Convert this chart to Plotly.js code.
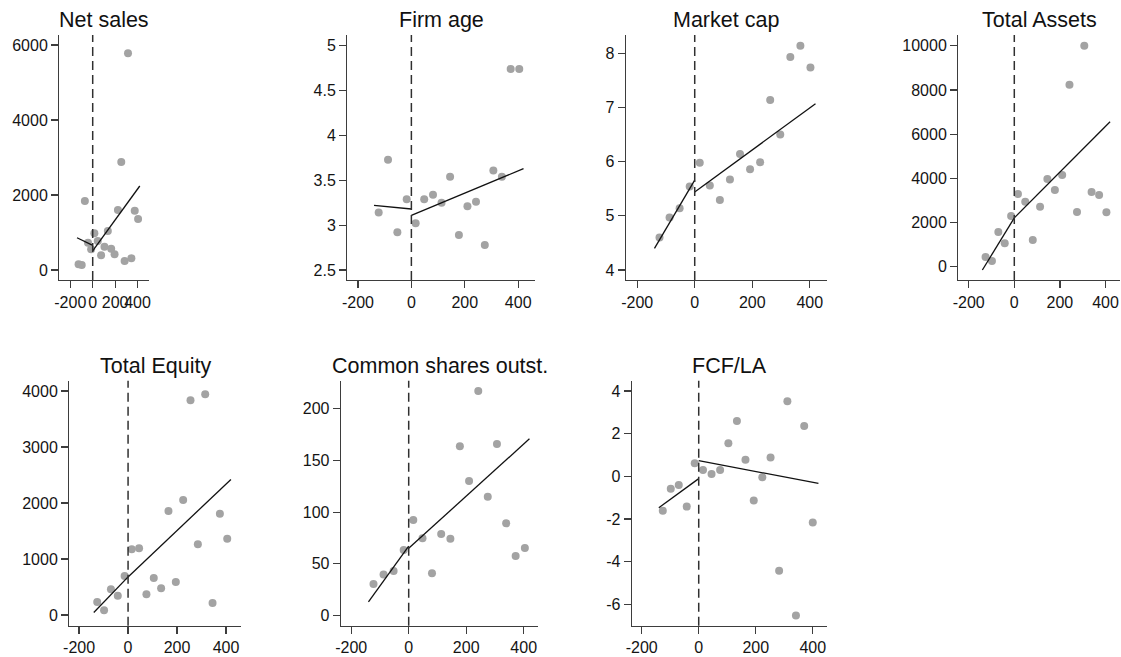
<!DOCTYPE html>
<html>
<head>
<meta charset="utf-8">
<script src="https://cdn.plot.ly/plotly-3.0.1.min.js"></script>
<style>
  html, body { margin: 0; padding: 0; background: #ffffff; }
  #chart { width: 1121px; height: 657px; }
</style>
</head>
<body>
<div id="chart"></div>
<script>
// Binned means around the cutoff (x = 0) with separate linear fits on each side.

const xTickVals = [-200, 0, 200, 400];
const xTickText = ["-200", "0", "200", "400"];

// Net sales
const netSalesX = [-126, -98, -70, -42, -14, 15, 45, 75, 105, 135, 165, 195, 225, 255, 285, 315, 345, 375, 405];
const netSalesY = [151, 133, 1840, 729, 551, 978, 773, 391, 622, 1040, 569, 418, 1600, 2880, 240, 5780, 311, 1582, 1360];
const netSalesFitLeftX = [-140, 0], netSalesFitLeftY = [860, 655];
const netSalesFitRightX = [0, 420], netSalesFitRightY = [510, 2240];
const netSalesYTicks = [0, 2000, 4000, 6000];

// Firm age
const firmAgeX = [-122.5, -87.5, -52.5, -17.5, 16, 48, 81, 113, 145, 178, 210, 242, 275, 307, 339, 372, 404];
const firmAgeY = [3.14, 3.73, 2.92, 3.29, 3.02, 3.29, 3.34, 3.25, 3.54, 2.89, 3.21, 3.26, 2.78, 3.61, 3.54, 4.74, 4.74];
const firmAgeFitLeftX = [-140, 0], firmAgeFitLeftY = [3.22, 3.18];
const firmAgeFitRightX = [0, 420], firmAgeFitRightY = [3.11, 3.63];
const firmAgeYTicks = [2.5, 3, 3.5, 4, 4.5, 5];

// Market cap
const marketCapX = [-122.5, -87.5, -52.5, -17.5, 17.5, 52.5, 87.5, 122.5, 157.5, 192.5, 227.5, 262.5, 297.5, 332.5, 367.5, 402.5];
const marketCapY = [4.60, 4.97, 5.14, 5.54, 5.98, 5.56, 5.29, 5.67, 6.14, 5.86, 5.99, 7.14, 6.50, 7.93, 8.14, 7.74];
const marketCapFitLeftX = [-140, 0], marketCapFitLeftY = [4.40, 5.66];
const marketCapFitRightX = [0, 420], marketCapFitRightY = [5.44, 7.07];
const marketCapYTicks = [4, 5, 6, 7, 8];

// Total Assets
const totalAssetsX = [-126, -98, -70, -42, -14, 16, 48, 81, 113, 145, 178, 210, 242, 275, 307, 339, 372, 404];
const totalAssetsY = [438, 257, 1570, 1057, 2294, 3290, 2943, 1208, 2717, 3970, 3472, 4151, 8235, 2475, 10000, 3381, 3245, 2460];
const totalAssetsFitLeftX = [-140, 0], totalAssetsFitLeftY = [-150, 2210];
const totalAssetsFitRightX = [0, 420], totalAssetsFitRightY = [2210, 6560];
const totalAssetsYTicks = [0, 2000, 4000, 6000, 8000, 10000];

// Total Equity
const totalEquityX = [-126, -98, -70, -42, -14, 15, 45, 75, 105, 135, 165, 195, 225, 255, 285, 315, 345, 375, 405];
const totalEquityY = [232, 83, 458, 345, 696, 1173, 1190, 369, 661, 476, 1857, 589, 2054, 3833, 1262, 3940, 214, 1810, 1363];
const totalEquityFitLeftX = [-140, 0], totalEquityFitLeftY = [45, 680];
const totalEquityFitRightX = [0, 420], totalEquityFitRightY = [680, 2420];
const totalEquityYTicks = [0, 1000, 2000, 3000, 4000];

// Common shares outstanding
const sharesX = [-122.5, -87.5, -52.5, -17.5, 16, 48, 81, 113, 145, 178, 210, 242, 275, 307, 339, 372, 404];
const sharesY = [30.4, 39.7, 43, 63.3, 92.4, 74.6, 40.7, 78.8, 74.3, 163.8, 130.2, 217.4, 115, 166, 89.2, 57.5, 65.3];
const sharesFitLeftX = [-140, 0], sharesFitLeftY = [13, 67];
const sharesFitRightX = [0, 420], sharesFitRightY = [65, 171];
const sharesYTicks = [0, 50, 100, 150, 200];

// FCF/LA
const fcfX = [-126, -98, -70, -42, -14, 15, 45, 75, 104, 134, 164, 193, 223, 252, 282, 311, 341, 370, 400];
const fcfY = [-1.62, -0.58, -0.41, -1.42, 0.61, 0.30, 0.11, 0.30, 1.55, 2.59, 0.77, -1.14, -0.05, 0.88, -4.42, 3.52, -6.52, 2.36, -2.17];
const fcfFitLeftX = [-140, 0], fcfFitLeftY = [-1.47, -0.11];
const fcfFitRightX = [0, 420], fcfFitRightY = [0.73, -0.33];
const fcfYTicks = [-6, -4, -2, 0, 2, 4];

const W = 1121, H = 657;
const FONT = "Arial, 'Liberation Sans', sans-serif";
const AXIS_COLOR = "#3d3d3d";
const DOT_COLOR = "#a3a3a3";

// Plot-area boxes in pixels (left, right, top, bottom) and axis ranges for each panel.
const panels = [
  { title: "Net sales", x: netSalesX, y: netSalesY,
    lx: netSalesFitLeftX, ly: netSalesFitLeftY, rx: netSalesFitRightX, ry: netSalesFitRightY,
    yt: netSalesYTicks, box: [59.3, 149.3, 35, 280], xr: [-298, 505], yr: [-267, 6267] },
  { title: "Firm age", x: firmAgeX, y: firmAgeY,
    lx: firmAgeFitLeftX, ly: firmAgeFitLeftY, rx: firmAgeFitRightX, ry: firmAgeFitRightY,
    yt: firmAgeYTicks, box: [347.3, 535, 35, 280], xr: [-240, 463], yr: [2.389, 5.119] },
  { title: "Market cap", x: marketCapX, y: marketCapY,
    lx: marketCapFitLeftX, ly: marketCapFitLeftY, rx: marketCapFitRightX, ry: marketCapFitRightY,
    yt: marketCapYTicks, box: [626, 826.7, 35, 280], xr: [-239, 459], yr: [3.815, 8.338] },
  { title: "Total Assets", x: totalAssetsX, y: totalAssetsY,
    lx: totalAssetsFitLeftX, ly: totalAssetsFitLeftY, rx: totalAssetsFitRightX, ry: totalAssetsFitRightY,
    yt: totalAssetsYTicks, box: [958.3, 1120, 35, 280], xr: [-245.6, 463.6], yr: [-602, 10484] },
  { title: "Total Equity", x: totalEquityX, y: totalEquityY,
    lx: totalEquityFitLeftX, ly: totalEquityFitLeftY, rx: totalEquityFitRightX, ry: totalEquityFitRightY,
    yt: totalEquityYTicks, box: [69.3, 240.7, 380.7, 625.7], xr: [-240, 460], yr: [-191, 4184] },
  { title: "Common shares outst.", x: sharesX, y: sharesY,
    lx: sharesFitLeftX, ly: sharesFitLeftY, rx: sharesFitRightX, ry: sharesFitRightY,
    yt: sharesYTicks, box: [341, 538.3, 380.7, 625.7], xr: [-235.5, 450.8], yr: [-10, 227.3] },
  { title: "FCF/LA", x: fcfX, y: fcfY,
    lx: fcfFitLeftX, ly: fcfFitLeftY, rx: fcfFitRightX, ry: fcfFitRightY,
    yt: fcfYTicks, box: [632, 827.3, 380.7, 625.7], xr: [-234, 451], yr: [-7.0, 4.478] }
];

const traces = [];
const layout = {
  width: W, height: H,
  margin: { l: 0, r: 0, t: 0, b: 0, pad: 0 },
  paper_bgcolor: "#ffffff", plot_bgcolor: "#ffffff",
  showlegend: false,
  font: { family: FONT, color: "#1a1a1a" },
  shapes: [], annotations: []
};

panels.forEach((p, i) => {
  const n = i + 1;
  const sx = n === 1 ? "" : String(n);
  const xa = "x" + sx, ya = "y" + sx;
  const [l, r, t, b] = p.box;

  traces.push({
    type: "scatter", mode: "markers", x: p.x, y: p.y, xaxis: xa, yaxis: ya,
    marker: { color: DOT_COLOR, size: 8, line: { width: 0 } }, hoverinfo: "skip"
  });
  [[p.lx, p.ly], [p.rx, p.ry]].forEach(([fx, fy]) => {
    traces.push({
      type: "scatter", mode: "lines", x: fx, y: fy, xaxis: xa, yaxis: ya,
      line: { color: "#111111", width: 1.3 }, hoverinfo: "skip"
    });
  });

  layout["xaxis" + sx] = {
    domain: [l / W, r / W], anchor: ya, range: p.xr,
    tickvals: xTickVals, ticktext: xTickText, tickangle: 0,
    ticks: "outside", ticklen: 7, tickwidth: 1.2, tickcolor: AXIS_COLOR,
    showline: true, linecolor: AXIS_COLOR, linewidth: 1.3,
    showgrid: false, zeroline: false,
    tickfont: { family: FONT, size: 16, color: "#141414" }, fixedrange: true
  };
  layout["yaxis" + sx] = {
    domain: [1 - b / H, 1 - t / H], anchor: xa, range: p.yr,
    tickvals: p.yt, ticktext: p.yt.map(v => String(v)),
    ticks: "outside", ticklen: 7, tickwidth: 1.2, tickcolor: AXIS_COLOR,
    showline: true, linecolor: AXIS_COLOR, linewidth: 1.3,
    showgrid: false, zeroline: false,
    tickfont: { family: FONT, size: 16, color: "#141414" }, fixedrange: true
  };

  // cutoff marker
  layout.shapes.push({
    type: "line", xref: xa, yref: ya + " domain", x0: 0, x1: 0, y0: 0, y1: 1,
    line: { color: "#303030", width: 1.5, dash: "9px,5px" }
  });

  layout.annotations.push({
    text: p.title, showarrow: false,
    xref: xa + " domain", x: 0.5, xanchor: "center",
    yref: "paper", y: 1 - (t - 15) / H, yanchor: "middle",
    font: { family: FONT, size: 21.5, color: "#111111" }
  });
});

Plotly.newPlot("chart", traces, layout, { displayModeBar: false, staticPlot: true });
</script>
</body>
</html>
